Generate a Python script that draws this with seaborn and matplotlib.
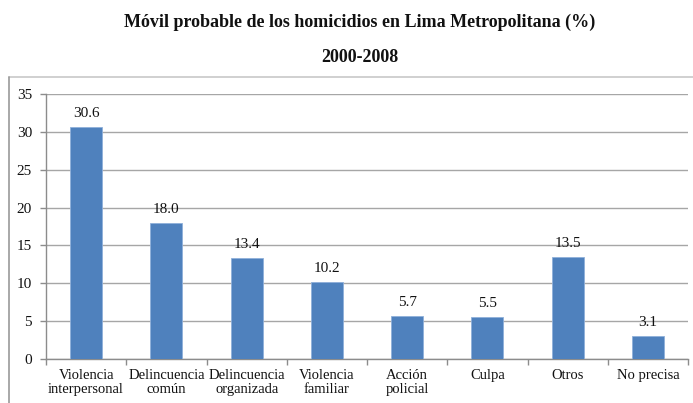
import matplotlib
matplotlib.use("Agg")
import matplotlib.pyplot as plt
from matplotlib.lines import Line2D
from matplotlib.ticker import FixedLocator
import seaborn as sns
import pandas as pd

categorias = [
    "Violencia\ninterpersonal",
    "Delincuencia\ncomún",
    "Delincuencia\norganizada",
    "Violencia\nfamiliar",
    "Acción\npolicial",
    "Culpa",
    "Otros",
    "No precisa",
]
porcentajes = [30.6, 18.0, 13.4, 10.2, 5.7, 5.5, 13.5, 3.1]
yticks = [0, 5, 10, 15, 20, 25, 30, 35]

sns.set_theme(style="white")
plt.rcParams["font.family"] = ["Liberation Serif", "DejaVu Serif"]

df = pd.DataFrame({"categoria": categorias, "valor": porcentajes})

fig = plt.figure(figsize=(6.93, 4.03), dpi=100)
ax = fig.add_axes([46 / 693, 1 - 359 / 403, (688 - 46) / 693, (359 - 94) / 403])

sns.barplot(data=df, x="categoria", y="valor", color="#4F81BD", saturation=1,
            width=0.4, edgecolor="#8fb0da", linewidth=0.6, ax=ax, zorder=3)

for cont in ax.containers:
    ax.bar_label(cont, labels=[f"{v:.1f}" for v in porcentajes], padding=5,
                 fontsize=11, color="#111111")

ax.set_ylim(0, 35)
ax.set_xlim(-0.5, len(categorias) - 0.5)
ax.set_yticks(yticks)
ax.yaxis.grid(True, color="#a6a6a6", linewidth=1.0, zorder=0)
ax.set_axisbelow(True)
ax.set_xlabel("")
ax.set_ylabel("")

for side in ["top", "right"]:
    ax.spines[side].set_visible(False)
for side in ["left", "bottom"]:
    ax.spines[side].set_color("#8c8c8c")
    ax.spines[side].set_linewidth(1.0)

ax.tick_params(axis="y", which="major", left=True, length=4, width=1,
               color="#8c8c8c", labelsize=11, pad=6, labelcolor="#111111")
ax.tick_params(axis="x", which="major", bottom=False, length=0,
               labelsize=10.5, pad=7, labelcolor="#111111")
ax.xaxis.set_minor_locator(FixedLocator([i - 0.5 for i in range(len(categorias) + 1)]))
ax.tick_params(axis="x", which="minor", bottom=True, length=4, width=1,
               color="#8c8c8c")
for lbl in ax.get_xticklabels():
    lbl.set_linespacing(1.1)

# outer frame of the chart area
fig.add_artist(Line2D([9 / 693, 1.0], [1 - 77 / 403, 1 - 77 / 403],
                      transform=fig.transFigure, color="#c8c8c8", linewidth=1.2))
fig.add_artist(Line2D([9 / 693, 9 / 693], [0.0, 1 - 77 / 403],
                      transform=fig.transFigure, color="#9a9a9a", linewidth=1.2))

fig.text(360 / 693, 1 - 22 / 403, "Móvil probable de los homicidios en Lima Metropolitana (%)",
         ha="center", va="center", fontsize=13, fontweight="bold", color="#111111")
fig.text(360 / 693, 1 - 57 / 403, "2000-2008",
         ha="center", va="center", fontsize=13, fontweight="bold", color="#111111")

fig.savefig("out.png", dpi=100)
